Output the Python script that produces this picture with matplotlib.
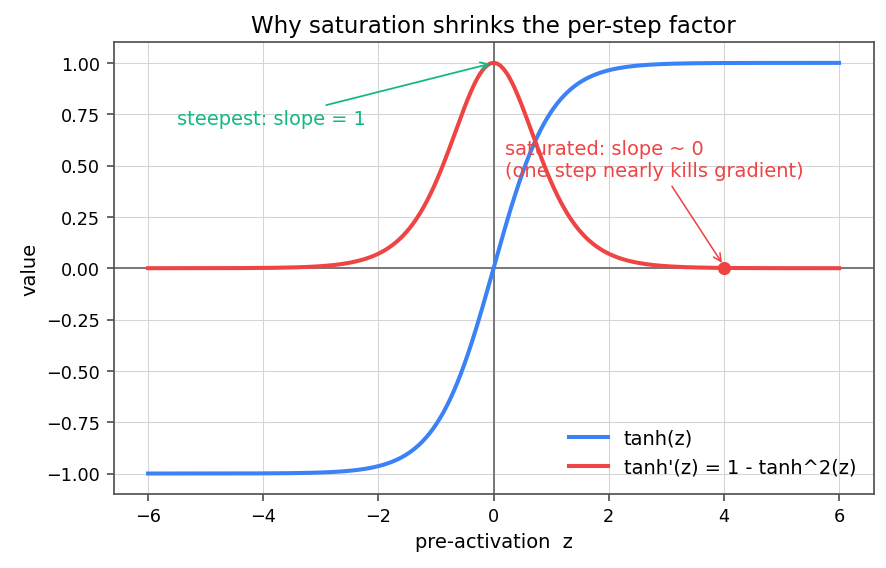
import matplotlib
matplotlib.use("Agg")
import matplotlib.pyplot as plt
import numpy as np

# z grid and the two curves shown in the chart
z = np.linspace(-6, 6, 600)
tanh_vals = np.tanh(z)
dtanh_vals = 1 - np.tanh(z) ** 2

sat_z = 4.0
sat_val = 1 - np.tanh(sat_z) ** 2

blue = "#3b82f6"
red = "#ef4444"
green = "#10b981"

fig, ax = plt.subplots(figsize=(7.0, 4.49), dpi=126.7)

ax.axhline(0, color="#777777", lw=1.1, zorder=1)
ax.axvline(0, color="#777777", lw=1.1, zorder=1)

ax.plot(z, tanh_vals, color=blue, lw=2.3, label="tanh(z)", zorder=3)
ax.plot(z, dtanh_vals, color=red, lw=2.3, label="tanh'(z) = 1 - tanh^2(z)", zorder=3)
ax.plot([sat_z], [sat_val], "o", color=red, ms=6.5, zorder=4)

ax.annotate("steepest: slope = 1", xy=(0, 1.0), xytext=(-5.5, 0.7),
            color=green, fontsize=11,
            arrowprops=dict(arrowstyle="->", color=green, lw=1.0))
ax.annotate("saturated: slope ~ 0\n(one step nearly kills gradient)",
            xy=(sat_z, sat_val + 0.01), xytext=(0.2, 0.45),
            color=red, fontsize=11,
            arrowprops=dict(arrowstyle="->", color=red, lw=0.9))

ax.set_title("Why saturation shrinks the per-step factor", fontsize=13)
ax.set_xlabel("pre-activation  z", fontsize=11)
ax.set_ylabel("value", fontsize=11)
ax.grid(True, color="#d5d5d5", lw=0.6)
ax.set_axisbelow(True)
for s in ax.spines.values():
    s.set_color("#555555")
    s.set_linewidth(1.0)
ax.tick_params(direction="out", length=4, width=1.0, color="#555555", labelsize=10)
ax.legend(loc="lower right", frameon=False, fontsize=11)

fig.subplots_adjust(left=0.128, right=0.985, top=0.924, bottom=0.13)
fig.savefig("out.png", dpi=126.7)
